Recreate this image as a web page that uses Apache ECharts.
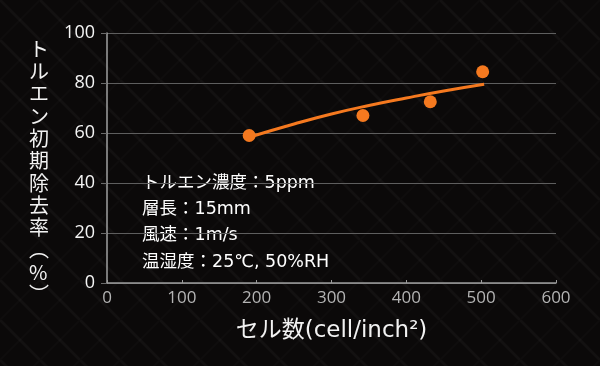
<!DOCTYPE html>
<html><head><meta charset="utf-8">
<script src="https://cdn.jsdelivr.net/npm/echarts@6/dist/echarts.min.js"></script>
<style>html,body{margin:0;padding:0;background:#0c0a0a}#c{width:600px;height:366px}</style>
</head><body><div id="c"></div>
<script>
const measuredX = [190, 342, 432, 502];
const measuredY = [59, 67, 72.5, 84.5];
const fitX = [192, 250, 300, 350, 400, 450, 504];
const fitY = [58.5, 63.6, 67.6, 71.0, 74.0, 76.8, 79.5];
const xTicks = [0, 100, 200, 300, 400, 500, 600];
const yTicks = [0, 20, 40, 60, 80, 100];
const yTitle = 'トルエン初期除去率︵%︶';
const xTitle = 'セル数(cell/inch²)';
const notes = ['トルエン濃度：5ppm', '層長：15mm', '風速：1m/s', '温湿度：25℃, 50%RH'];

// subtle diagonal background texture
const pc = document.createElement('canvas');
pc.width = 40; pc.height = 40;
const g = pc.getContext('2d');
g.fillStyle = '#0b0909'; g.fillRect(0,0,40,40);
g.strokeStyle = 'rgba(255,255,255,0.035)'; g.lineWidth = 3;
g.beginPath(); g.moveTo(0,0); g.lineTo(40,40); g.stroke();
g.strokeStyle = 'rgba(255,255,255,0.018)'; g.lineWidth = 2;
g.beginPath(); g.moveTo(40,0); g.lineTo(0,40); g.stroke();

const chart = echarts.init(document.getElementById('c'));
const num = "'Open Sans', 'Noto Sans', sans-serif";
const wide = "'DejaVu Sans', 'Noto Sans CJK JP', sans-serif";
chart.setOption({
  backgroundColor: {image: pc, repeat: 'repeat'},
  animation: false,
  grid: {left: 107, right: 44, top: 33, bottom: 83},
  xAxis: {
    type: 'value', min: xTicks[0], max: xTicks[xTicks.length-1], interval: 100,
    axisLine: {lineStyle: {color: '#9a9a9a', width: 1.5}},
    axisTick: {show: true, inside: true, length: 3, lineStyle: {color: '#9a9a9a'}},
    axisLabel: {color: '#b4b4b4', fontSize: 17, fontFamily: num, margin: 7},
    splitLine: {show: false},
    name: xTitle, nameLocation: 'middle', nameGap: 37,
    nameTextStyle: {color: '#f2f2f2', fontSize: 23, fontFamily: wide}
  },
  yAxis: {
    type: 'value', min: yTicks[0], max: yTicks[yTicks.length-1], interval: 20,
    axisLine: {show: true, lineStyle: {color: '#a0a0a0', width: 1.5}},
    axisTick: {show: true, length: 6, lineStyle: {color: '#6a6a6a'}},
    axisLabel: {color: '#f4f4f4', fontSize: 18, fontFamily: num, margin: 12},
    splitLine: {show: true, lineStyle: {color: '#5e5e5e', width: 1.2}}
  },
  graphic: [
    {type: 'text', left: 29, top: 38, style: {
      text: yTitle.split('').join('\n'), fill: '#f2f2f2', font: "20px 'Noto Sans CJK JP'",
      lineHeight: 22.3, align: 'center'}},
    {type: 'text', left: 142, top: 170, style: {
      text: notes.join('\n'), fill: '#ffffff', font: "17.5px 'DejaVu Sans', 'Noto Sans CJK JP'", lineHeight: 26.3}}
  ],
  series: [
    {type: 'line', data: fitX.map((x,i)=>[x, fitY[i]]), smooth: true, symbol: 'none',
     lineStyle: {color: '#f5791f', width: 3}, z: 2},
    {type: 'scatter', data: measuredX.map((x,i)=>[x, measuredY[i]]), symbolSize: 13,
     itemStyle: {color: '#f5791f', opacity: 1}, z: 3}
  ]
});
</script></body></html>
